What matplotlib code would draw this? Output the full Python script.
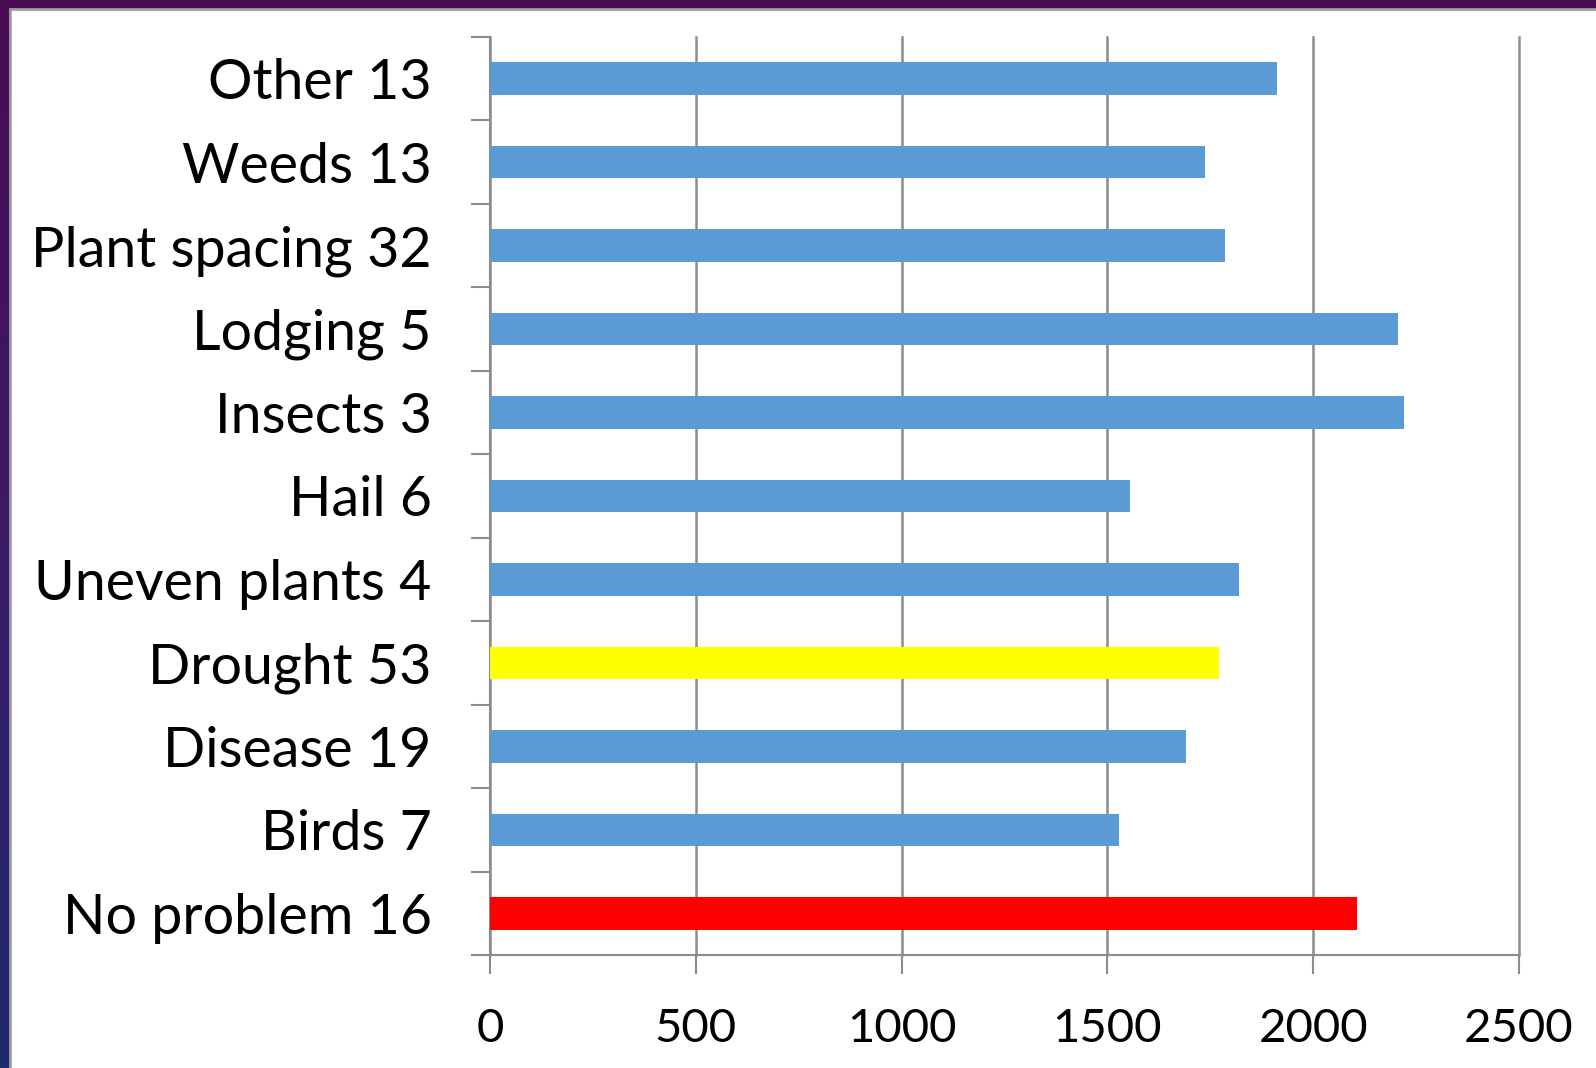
import numpy as np
import matplotlib
matplotlib.use('Agg')
import matplotlib.pyplot as plt
import matplotlib.patches as mpatches

matplotlib.rcParams['font.family'] = ['Lato', 'DejaVu Sans']

# categories listed bottom to top, as drawn
problems = ['No problem', 'Birds', 'Disease', 'Drought', 'Uneven plants', 'Hail',
            'Insects', 'Lodging', 'Plant spacing', 'Weeds', 'Other']
counts = [16, 7, 19, 53, 4, 6, 3, 5, 32, 13, 13]
yields = [2106, 1527, 1691, 1770, 1819, 1554, 2220, 2205, 1785, 1738, 1911]
x_ticks = [0, 500, 1000, 1500, 2000, 2500]

BLUE = '#5B9BD5'
GRID = '#8c8c8c'
highlight = {'No problem': '#FF0000', 'Drought': '#FFFF00'}

fig = plt.figure(figsize=(15.96, 10.68), dpi=100)

# purple/navy slide background behind the white chart panel
bg = fig.add_axes([0, 0, 1, 1], zorder=-10)
grad = np.linspace(0, 1, 256).reshape(-1, 1)
cmap = matplotlib.colors.LinearSegmentedColormap.from_list('slide', ['#4a0c55', '#3a1a66', '#1f2a70'])
bg.imshow(grad, aspect='auto', cmap=cmap, extent=[0, 1, 0, 1], origin='upper')
bg.set_xlim(0, 1)
bg.set_ylim(0, 1)
bg.axis('off')
panel = mpatches.Rectangle((10 / 1596, -0.01), 1.0, 1 - 9 / 1068 + 0.01, transform=bg.transAxes,
                           facecolor='white', edgecolor='#a0a0a0', linewidth=2)
bg.add_patch(panel)

ax = fig.add_axes([490 / 1596, 1 - 955 / 1068, (1519 - 490) / 1596, (955 - 37) / 1068])
ax.set_facecolor('none')

labels = [f'{p} {n}' for p, n in zip(problems, counts)]
colors = [highlight.get(p, BLUE) for p in problems]
ypos = np.arange(len(problems))

ax.barh(ypos, yields, height=0.39, color=colors, zorder=3)

ax.set_xlim(0, 2500)
ax.set_ylim(-0.5, len(problems) - 0.5)
ax.set_xticks(x_ticks)
ax.set_xticklabels([str(t) for t in x_ticks], fontsize=34)
ax.set_yticks(ypos)
ax.set_yticklabels(labels, fontsize=40)
ax.set_yticks(np.arange(len(problems) + 1) - 0.5, minor=True)

ax.tick_params(axis='y', which='major', length=0, pad=42)
ax.tick_params(axis='y', which='minor', length=14, width=1.5, color=GRID)
ax.tick_params(axis='x', which='major', length=14, width=1.5, color=GRID, pad=24)

ax.xaxis.grid(True, color=GRID, linewidth=1.8, zorder=0)
for line in ax.get_xgridlines():
    line.set_clip_on(False)
ax.set_axisbelow(True)
for side in ['top', 'right']:
    ax.spines[side].set_visible(False)
for side in ['left', 'bottom']:
    ax.spines[side].set_color(GRID)
    ax.spines[side].set_linewidth(1.5)

plt.savefig('out.png', dpi=100)
